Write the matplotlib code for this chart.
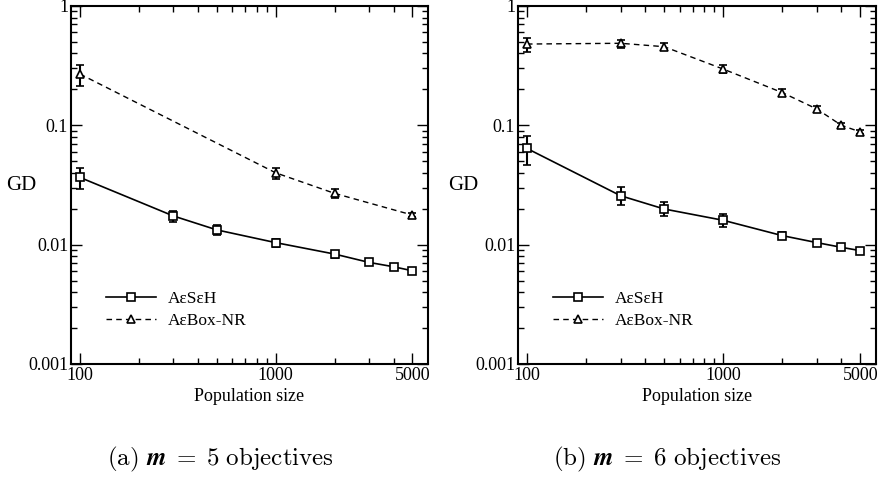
import matplotlib
import matplotlib.pyplot as plt
from matplotlib.ticker import FixedLocator, LogLocator, NullFormatter

matplotlib.use('Agg')

plt.rcParams['font.family'] = ['Liberation Serif', 'DejaVu Serif']
plt.rcParams['mathtext.fontset'] = 'cm'

# population sizes
pop_seh_5 = [100, 300, 500, 1000, 2000, 3000, 4000, 5000]
pop_box_5 = [100, 1000, 2000, 5000]
pop_6 = [100, 300, 500, 1000, 2000, 3000, 4000, 5000]

# m = 5 objectives
gd_seh_5 = [0.0366, 0.0174, 0.0133, 0.0104, 0.00834, 0.0071, 0.00653, 0.00604]
lo_seh_5 = [0.0292, 0.0154, 0.0120, 0.0096, 0.0078, 0.0068, 0.0063, 0.0058]
hi_seh_5 = [0.0435, 0.0192, 0.0146, 0.0111, 0.0089, 0.0074, 0.0068, 0.0063]

gd_box_5 = [0.269, 0.0400, 0.0269, 0.0177]
lo_box_5 = [0.213, 0.0356, 0.0244, 0.0170]
hi_box_5 = [0.320, 0.0440, 0.0292, 0.0185]

# m = 6 objectives
gd_seh_6 = [0.064, 0.0257, 0.0199, 0.0160, 0.0119, 0.0104, 0.0095, 0.0089]
lo_seh_6 = [0.0468, 0.0215, 0.0174, 0.0141, 0.0111, 0.0099, 0.0091, 0.0086]
hi_seh_6 = [0.0813, 0.0306, 0.0226, 0.0179, 0.0127, 0.0109, 0.0099, 0.0092]

gd_box_6 = [0.480, 0.487, 0.456, 0.296, 0.188, 0.137, 0.100, 0.088]
lo_box_6 = [0.414, 0.442, 0.428, 0.276, 0.176, 0.130, 0.096, 0.085]
hi_box_6 = [0.536, 0.519, 0.490, 0.320, 0.200, 0.145, 0.104, 0.092]

captions = [r'$\mathrm{(a)}\ \mathbfit{m}\;\mathbf{=}\;\mathbf{5}\ \mathrm{objectives}$',
            r'$\mathrm{(b)}\ \mathbfit{m}\;\mathbf{=}\;\mathbf{6}\ \mathrm{objectives}$']


def errs(y, lo, hi):
    return [[v - l for v, l in zip(y, lo)], [h - v for v, h in zip(y, hi)]]


def plot_panel(ax, px1, y1, lo1, hi1, px2, y2, lo2, hi2):
    ax.errorbar(px1, y1, yerr=errs(y1, lo1, hi1), color='black', lw=1.2,
                marker='s', ms=5.5, mfc='white', mec='black', mew=1.2,
                elinewidth=1.5, capsize=3, capthick=1.5, label='AεSεH')
    ax.errorbar(px2, y2, yerr=errs(y2, lo2, hi2), color='black', lw=1.0,
                ls=(0, (4, 3)), marker='^', ms=6, mfc='white', mec='black',
                mew=1.2, elinewidth=1.5, capsize=3, capthick=1.5,
                label='AεBox-NR')

    ax.set_xscale('log')
    ax.set_yscale('log')
    ax.set_xlim(90, 6000)
    ax.set_ylim(0.001, 1)

    ax.xaxis.set_major_locator(FixedLocator([100, 1000, 5000]))
    ax.set_xticklabels(['100', '1000', '5000'])
    ax.xaxis.set_minor_locator(FixedLocator(
        [200, 300, 400, 500, 600, 700, 800, 900, 2000, 3000, 4000]))
    ax.xaxis.set_minor_formatter(NullFormatter())
    ax.yaxis.set_major_locator(FixedLocator([0.001, 0.01, 0.1, 1]))
    ax.set_yticklabels(['0.001', '0.01', '0.1', '1'])
    ax.yaxis.set_minor_locator(LogLocator(base=10, subs=range(2, 10)))
    ax.yaxis.set_minor_formatter(NullFormatter())

    ax.tick_params(which='both', direction='in', top=True, right=True,
                   width=1.0, labelsize=13)
    ax.tick_params(which='major', length=8, pad=2)
    ax.tick_params(which='minor', length=4)
    for spine in ax.spines.values():
        spine.set_linewidth(1.5)

    ax.set_xlabel('Population size', fontsize=13, labelpad=3)

    handles, labels = ax.get_legend_handles_labels()
    handles = [h[0] for h in handles]
    ax.legend(handles, labels, loc='center left', bbox_to_anchor=(0.098, 0.151),
              frameon=False, fontsize=12.5, handlelength=2.9, handletextpad=0.65,
              labelspacing=0.3, borderpad=0, borderaxespad=0)


fig = plt.figure(figsize=(8.85, 4.8), dpi=100)
ax_a = fig.add_axes([0.0802, 0.2417, 0.4034, 0.7458])
ax_b = fig.add_axes([0.5853, 0.2417, 0.4045, 0.7458])

plot_panel(ax_a, pop_seh_5, gd_seh_5, lo_seh_5, hi_seh_5,
           pop_box_5, gd_box_5, lo_box_5, hi_box_5)
plot_panel(ax_b, pop_6, gd_seh_6, lo_seh_6, hi_seh_6,
           pop_6, gd_box_6, lo_box_6, hi_box_6)

fig.text(21 / 885, 1 - 185 / 480, 'GD', fontsize=15, ha='center', va='center')
fig.text(463 / 885, 1 - 185 / 480, 'GD', fontsize=15, ha='center', va='center')

fig.text(220 / 885, 1 - 459 / 480, captions[0], fontsize=18,
         ha='center', va='center')
fig.text(667 / 885, 1 - 459 / 480, captions[1], fontsize=18,
         ha='center', va='center')

fig.savefig('out.png', dpi=100)
